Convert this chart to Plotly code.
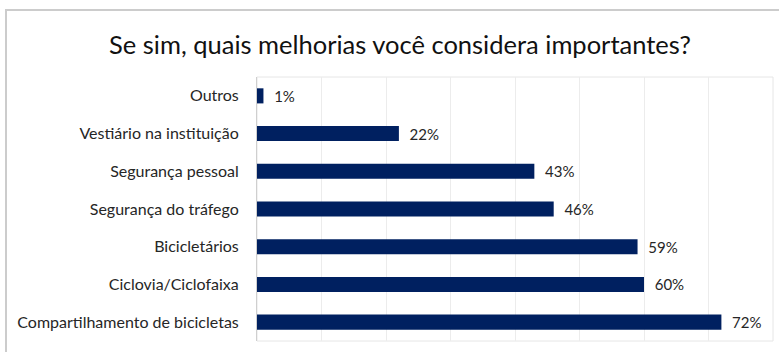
import plotly.graph_objects as go

categories = ["Outros", "Vestiário na instituição", "Segurança pessoal", "Segurança do tráfego",
              "Bicicletários", "Ciclovia/Ciclofaixa", "Compartilhamento de bicicletas"]
values = [0.01, 0.22, 0.43, 0.46, 0.59, 0.60, 0.72]
title_text = "Se sim, quais melhorias você considera importantes?"

W, H = 779, 352
L, R, T, B = 257, 6, 77, 11
pw, ph = W - L - R, H - T - B

def px(x):
    return (x - L) / pw

def py(y):
    return (H - B - y) / ph

FONT = "Lato"
fig = go.Figure(go.Bar(
    x=values, y=categories, orientation="h",
    marker=dict(color="#002060", line=dict(width=0)),
    text=[f"\u00a0\u00a0{round(v*100)}%" for v in values],
    textposition="outside", cliponaxis=False, constraintext="none",
    textfont=dict(family=FONT, size=15, color="#262626"),
    width=0.4,
))

fig.update_layout(
    width=W, height=H,
    margin=dict(l=L, r=R, t=T, b=B, pad=0),
    paper_bgcolor="white", plot_bgcolor="white",
    showlegend=False,
    title=dict(text=title_text, x=400 / W, xref="container", xanchor="center",
               y=1 - 45 / H, yref="container", yanchor="middle",
               font=dict(family=FONT, size=25.5, color="#111111")),
    xaxis=dict(range=[0, 0.8], dtick=0.1, showticklabels=False, showgrid=True,
               gridcolor="#ececec", gridwidth=1, zeroline=False, showline=False, ticks=""),
    yaxis=dict(autorange="reversed", showgrid=False, showline=True, linecolor="#cfcfcf",
               linewidth=1, ticks="", ticklabelstandoff=14,
               tickfont=dict(family=FONT, size=16, color="#262626")),
    shapes=[
        # plot-area box
        dict(type="rect", xref="paper", yref="paper", x0=0, x1=1, y0=0, y1=1,
             line=dict(color="#e6e6e6", width=1), layer="below"),
        # outer chart frame
        dict(type="rect", xref="paper", yref="paper", x0=px(6), x1=px(790), y0=py(370), y1=py(10),
             line=dict(color="#cccccc", width=2), layer="below"),
    ],
)

fig.write_html("out.html")
